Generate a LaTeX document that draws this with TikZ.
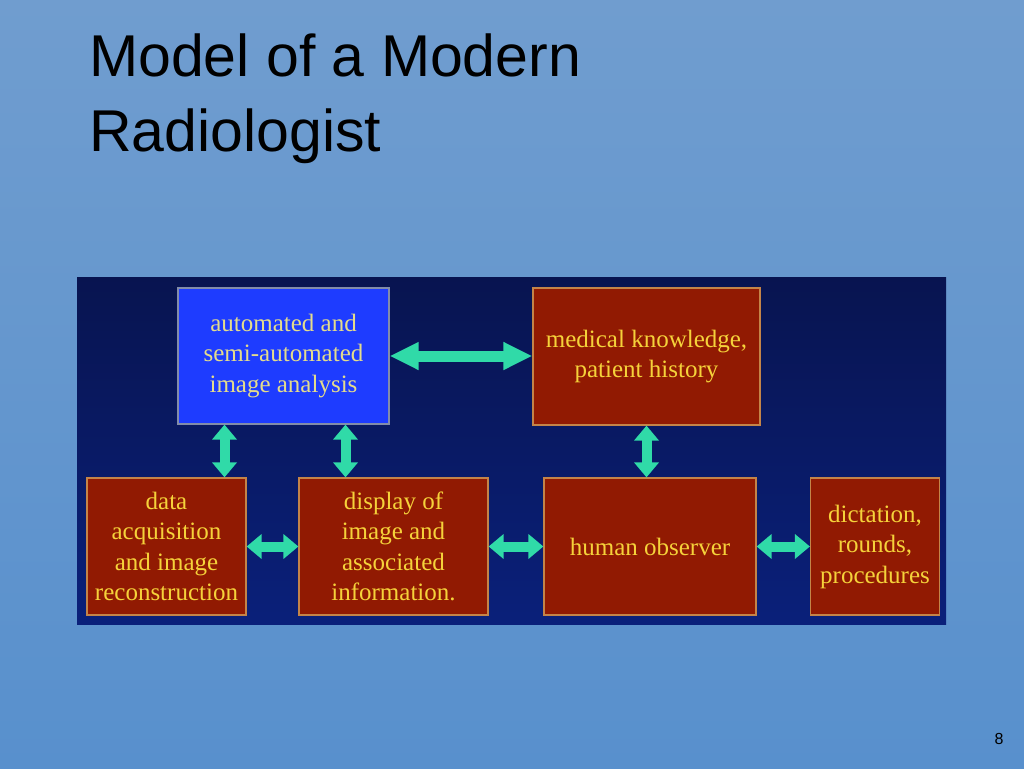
\documentclass[tikz,border=0pt]{standalone}
\usepackage{fontspec}
\setmainfont{Liberation Serif}
\newfontfamily\titlefont{Liberation Sans}
\usetikzlibrary{arrows.meta}

\definecolor{slidetop}{RGB}{112,157,207}
\definecolor{slidebottom}{RGB}{88,144,205}
\definecolor{paneltop}{RGB}{8,20,80}
\definecolor{panelbottom}{RGB}{10,32,122}
\definecolor{blockred}{RGB}{145,26,2}
\definecolor{blockline}{RGB}{196,132,72}
\definecolor{blockblue}{RGB}{30,60,255}
\definecolor{blueline}{RGB}{130,140,170}
\definecolor{boxtext}{RGB}{245,210,58}
\definecolor{bluetext}{RGB}{228,220,140}
\definecolor{linkteal}{RGB}{48,218,168}

\tikzset{
	block/.style={draw=blockline, fill=blockred, line width=1.2pt, text=boxtext,
		align=center, inner sep=0pt, font=\fontsize{25}{30.5}\selectfont},
	blueblock/.style={block, draw=blueline, fill=blockblue, text=bluetext},
	link/.style={draw=linkteal, line width=10pt,
		{Triangle[length=15pt,width=24pt]}-{Triangle[length=15pt,width=24pt]}},
	biglink/.style={link, line width=11pt,
		{Triangle[length=29pt,width=26pt]}-{Triangle[length=29pt,width=26pt]}}
}

\begin{document}
\begin{tikzpicture}[x=1pt,y=1pt,yscale=-1]
	\useasboundingbox (0,0) rectangle (1024,768);
	% slide background
	\shade [top color=slidetop, bottom color=slidebottom] (0,0) rectangle (1024,768);

	% Title
	\node (title) [anchor=base west, inner sep=0pt, font=\titlefont\fontsize{59}{72}\selectfont] at (89,77) {Model of a Modern};
	\node (title2) [anchor=base west, inner sep=0pt, font=\titlefont\fontsize{59}{72}\selectfont] at (89,151) {Radiologist};
	% page number
	\node (pagenum) [anchor=base, inner sep=0pt, font=\titlefont\fontsize{16}{19}\selectfont] at (999,744) {8};

	% diagram panel
	\shade [top color=paneltop, bottom color=panelbottom] (77,277) rectangle (946,624);

	% Blocks
	\node (auto) [blueblock, minimum width=211pt, minimum height=136pt] at (283.5,356) {automated and\\semi-automated\\image analysis};
	\node (med) [block, minimum width=227pt, minimum height=137pt] at (646.5,356.5) {medical knowledge,\\patient history};
	\node (data) [block, minimum width=159pt, minimum height=137pt] at (166.5,546.5) {data\\acquisition\\and image\\reconstruction};
	\node (display) [block, minimum width=189pt, minimum height=137pt] at (393.5,546.5) {display of\\image and\\associated\\information.};
	\node (human) [block, minimum width=212pt, minimum height=137pt] at (650,546.5) {human observer};
	\node (dict) [block, minimum width=129pt, minimum height=137pt] at (875,546.5) {dictation,\\rounds,\\procedures};

	% Connections
	\draw [biglink] (auto.east) -- (auto.east -| med.west);
	\draw [link] ([xshift=-59]auto.south) -- ([xshift=-59]auto.south |- data.north);
	\draw [link] ([xshift=62]auto.south) -- ([xshift=62]auto.south |- display.north);
	\draw [link] (med.south) -- (med.south |- human.north);
	\draw [link] (data.east) -- (display.west);
	\draw [link] (display.east) -- (human.west);
	\draw [link] (human.east) -- (dict.west);

\end{tikzpicture}
\end{document}
